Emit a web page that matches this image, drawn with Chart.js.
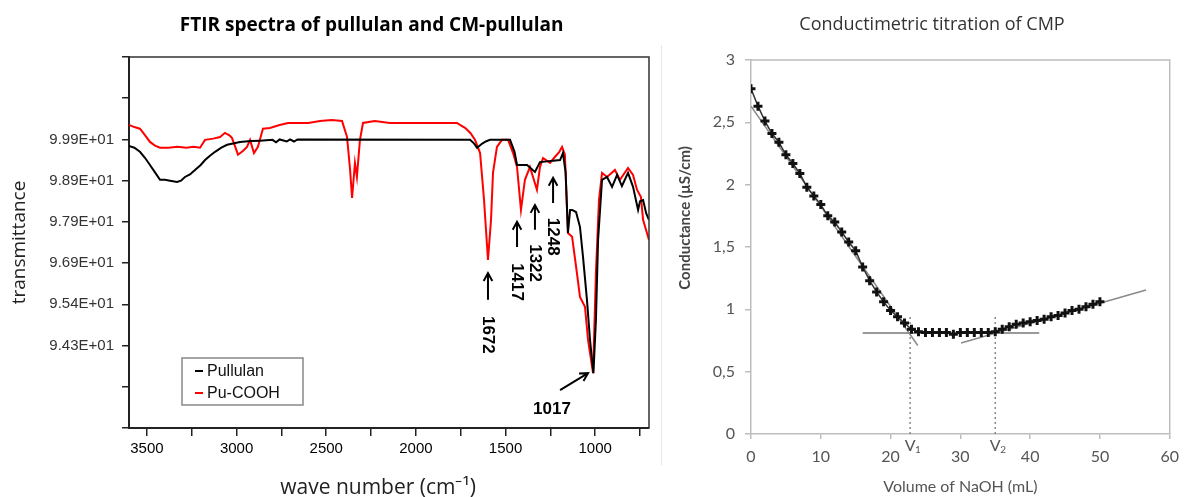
<!DOCTYPE html>
<html>
<head>
<meta charset="utf-8">
<script src="https://cdn.jsdelivr.net/npm/chart.js@4.4.0/dist/chart.umd.min.js"></script>
<style>
  html, body { margin: 0; padding: 0; background: #fff; }
  #wrap { position: relative; width: 1187px; height: 497px; overflow: hidden; }
  #ftir { position: absolute; left: 0; top: 0; }
  #cond { position: absolute; left: 660px; top: 0; }
  #sep { position: absolute; left: 661px; top: 45px; width: 1px; height: 420px; background: #e6e6e6; }
</style>
</head>
<body>
<div id="wrap">
  <canvas id="ftir" width="660" height="497"></canvas>
  <div id="sep"></div>
  <canvas id="cond" width="527" height="497"></canvas>
</div>
<script>
// ---- FTIR spectra (left) ----
// y values are positions on the transmittance axis, counted in tick steps from the bottom
let yTickLabels = ['', '', '9.43E+01', '9.54E+01', '9.69E+01', '9.79E+01', '9.89E+01', '9.99E+01', '', ''];

let pullulanWave = [3600, 3570, 3539, 3510, 3483, 3455, 3427, 3400, 3371, 3332, 3310, 3288, 3260, 3232, 3200, 3176, 3150, 3120, 3085, 3053, 3020, 2981, 2920, 2870, 2800, 2780, 2760, 2720, 2702, 2680, 2660, 1698, 1675, 1659, 1630, 1610, 1587, 1475, 1450, 1436, 1380, 1336, 1308, 1196, 1180, 1165, 1152, 1140, 1129, 1107, 1085, 1068, 1046, 1029, 1010, 996, 984, 962, 934, 906, 878, 851, 817, 789, 761, 750, 733, 715, 700];
let pullulanT = [6.84, 6.80, 6.70, 6.55, 6.38, 6.20, 6.02, 6.02, 6.00, 5.97, 6.00, 6.09, 6.15, 6.26, 6.38, 6.50, 6.60, 6.70, 6.80, 6.87, 6.90, 6.94, 6.96, 6.97, 6.99, 6.93, 7.00, 6.95, 7.00, 6.95, 7.00, 6.99, 6.90, 6.80, 6.90, 6.95, 6.99, 6.99, 6.70, 6.38, 6.38, 6.21, 6.45, 6.50, 6.67, 6.20, 4.73, 5.29, 5.29, 5.24, 4.88, 4.15, 3.11, 2.14, 1.33, 2.62, 4.56, 6.02, 6.09, 5.85, 6.14, 5.87, 6.19, 5.85, 5.29, 5.50, 5.53, 5.20, 5.05];

let puCoohWave = [3600, 3570, 3539, 3510, 3483, 3455, 3427, 3380, 3330, 3280, 3240, 3204, 3176, 3130, 3092, 3065, 3040, 3026, 3010, 2992, 2965, 2942, 2925, 2903, 2881, 2853, 2814, 2760, 2713, 2600, 2535, 2470, 2412, 2384, 2367, 2356, 2340, 2329, 2312, 2295, 2230, 2144, 1900, 1771, 1745, 1726, 1695, 1670, 1642, 1620, 1598, 1581, 1570, 1548, 1520, 1486, 1458, 1436, 1414, 1392, 1364, 1325, 1308, 1291, 1252, 1224, 1200, 1185, 1169, 1152, 1129, 1102, 1085, 1057, 1040, 1012, 996, 979, 962, 934, 890, 862, 817, 789, 767, 745, 733, 700];
let puCoohT = [7.35, 7.30, 7.26, 7.10, 6.94, 6.85, 6.80, 6.80, 6.82, 6.80, 6.82, 6.80, 6.99, 7.02, 7.06, 7.16, 7.10, 7.04, 6.85, 6.63, 6.72, 6.82, 6.99, 6.67, 6.82, 7.26, 7.28, 7.35, 7.40, 7.40, 7.45, 7.47, 7.45, 7.06, 6.26, 5.58, 6.43, 6.09, 6.99, 7.40, 7.45, 7.40, 7.40, 7.40, 7.33, 7.28, 7.15, 6.99, 6.67, 5.53, 4.08, 5.05, 6.19, 6.82, 6.99, 6.99, 6.67, 6.33, 5.29, 6.02, 6.33, 5.78, 6.33, 6.55, 6.43, 6.58, 6.70, 6.82, 6.63, 4.73, 4.64, 3.76, 3.18, 2.94, 2.14, 1.33, 3.76, 5.53, 6.19, 6.09, 6.26, 6.02, 6.31, 6.14, 5.78, 5.60, 5.05, 4.56];

// peak marks: arrow (wave number, head, tail) and label
let peakNotes = [
  { wave: 1598, head: 3.76, tail: 3.11, label: 2.26, text: '1672' },
  { wave: 1436, head: 5.00, tail: 4.39, label: 3.54, text: '1417' },
  { wave: 1336, head: 5.41, tail: 4.81, label: 4.00, text: '1322' },
  { wave: 1235, head: 6.07, tail: 5.46, label: 4.64, text: '1248' }
];

function toPoints(xs, ys) {
  return xs.map((x, i) => ({ x: x, y: ys[i] }));
}

function arrow(ctx, x1, y1, x2, y2) {
  const ang = Math.atan2(y2 - y1, x2 - x1);
  ctx.beginPath();
  ctx.moveTo(x1, y1);
  ctx.lineTo(x2, y2);
  ctx.moveTo(x2 - 9 * Math.cos(ang - 0.5), y2 - 9 * Math.sin(ang - 0.5));
  ctx.lineTo(x2, y2);
  ctx.lineTo(x2 - 9 * Math.cos(ang + 0.5), y2 - 9 * Math.sin(ang + 0.5));
  ctx.stroke();
}

const ftirExtras = {
  id: 'ftirExtras',
  afterDatasetsDraw(chart) {
    const { ctx, chartArea: a, scales: { x, y } } = chart;
    ctx.save();
    // top and right frame
    ctx.strokeStyle = '#333';
    ctx.lineWidth = 1.5;
    ctx.beginPath();
    ctx.moveTo(a.left, a.top);
    ctx.lineTo(a.right, a.top);
    ctx.lineTo(a.right, a.bottom);
    ctx.stroke();

    // peak arrows and labels
    ctx.strokeStyle = '#000';
    ctx.fillStyle = '#000';
    ctx.lineWidth = 2;
    ctx.font = 'bold 17px "Liberation Sans"';
    ctx.textAlign = 'center';
    ctx.textBaseline = 'middle';
    peakNotes.forEach(p => {
      const px = x.getPixelForValue(p.wave);
      arrow(ctx, px, y.getPixelForValue(p.tail), px, y.getPixelForValue(p.head));
      ctx.save();
      ctx.translate(px, y.getPixelForValue(p.label));
      ctx.rotate(Math.PI / 2);
      ctx.fillText(p.text, 0, 0);
      ctx.restore();
    });
    arrow(ctx, x.getPixelForValue(1196), y.getPixelForValue(0.92), x.getPixelForValue(1040), y.getPixelForValue(1.33));
    ctx.fillText('1017', x.getPixelForValue(1241), y.getPixelForValue(0.46));

    // legend box
    const lx = a.left + 53, ly = a.bottom - 70;
    ctx.fillStyle = '#fff';
    ctx.fillRect(lx, ly, 121, 47);
    ctx.strokeStyle = '#888';
    ctx.lineWidth = 1.5;
    ctx.strokeRect(lx, ly, 121, 47);
    ctx.font = '16px "Liberation Sans"';
    ctx.textAlign = 'left';
    chart.data.datasets.forEach((ds, i) => {
      const cy = ly + 13 + i * 22;
      ctx.strokeStyle = ds.borderColor;
      ctx.lineWidth = 2;
      ctx.beginPath();
      ctx.moveTo(lx + 13, cy);
      ctx.lineTo(lx + 21, cy);
      ctx.stroke();
      ctx.fillStyle = '#111';
      ctx.fillText(ds.label, lx + 25, cy + 1);
    });
    ctx.restore();
  }
};

new Chart(document.getElementById('ftir'), {
  type: 'line',
  data: {
    datasets: [
      { label: 'Pullulan', data: toPoints(pullulanWave, pullulanT), borderColor: '#000', borderWidth: 2, pointRadius: 0, tension: 0 },
      { label: 'Pu-COOH', data: toPoints(puCoohWave, puCoohT), borderColor: '#ff0000', borderWidth: 2, pointRadius: 0, tension: 0 }
    ]
  },
  options: {
    responsive: false,
    animation: false,
    events: [],
    layout: { padding: { left: 0, right: 11, top: 0, bottom: 0 } },
    plugins: {
      legend: { display: false },
      tooltip: { enabled: false },
      title: {
        display: true,
        fullSize: false,
        // trailing spaces nudge the centred title a little to the left, as in the original
        text: 'FTIR spectra of pullulan and CM-pullulan' + ' '.repeat(7),
        color: '#000',
        font: { family: 'Open Sans', size: 19, weight: 'bold', lineHeight: 1.2 },
        padding: { top: 14.6, bottom: 19.6 }
      }
    },
    scales: {
      x: {
        type: 'linear',
        reverse: true,
        min: 700,
        max: 3600,
        afterFit: s => { s.height = 69; },
        ticks: {
          stepSize: 250, includeBounds: false, autoSkip: false, maxRotation: 0,
          color: '#000', padding: 4,
          font: { family: 'Liberation Sans', size: 15 },
          callback: v => (v % 500 === 0 ? String(v) : '')
        },
        grid: { drawOnChartArea: false, tickLength: 8, color: '#222', lineWidth: 1.5 },
        border: { display: true, color: '#222', width: 2 },
        title: {
          display: true, text: 'wave number (cm⁻¹)' + ' '.repeat(4), color: '#222',
          font: { family: 'Open Sans', size: 21, lineHeight: 1 },
          padding: { top: 0, bottom: -2 }
        }
      },
      y: {
        type: 'linear',
        min: 0,
        max: 9,
        afterFit: s => { s.width = 129; },
        ticks: {
          stepSize: 1, autoSkip: false, color: '#333', padding: 8,
          font: { family: 'Liberation Sans', size: 15 },
          callback: v => yTickLabels[v]
        },
        grid: { drawOnChartArea: false, tickLength: 7, color: '#222', lineWidth: 1.5 },
        border: { display: true, color: '#222', width: 2 },
        title: {
          display: true, text: 'transmittance', color: '#222',
          font: { family: 'Open Sans', size: 19, lineHeight: 1.2 },
          padding: { top: 8.6, bottom: 0 }
        }
      }
    }
  },
  plugins: [ftirExtras]
});

// ---- Conductimetric titration (right) ----
let naohVolume = [0, 1, 2, 3, 4, 5, 6, 7, 8, 9, 10, 11, 12, 13, 14, 15, 16, 17, 18, 19, 20, 21, 22, 23, 24, 25, 26, 27, 28, 29, 30, 31, 32, 33, 34, 35, 36, 37, 38, 39, 40, 41, 42, 43, 44, 45, 46, 47, 48, 49, 50];
let conductance = [2.77, 2.63, 2.51, 2.41, 2.34, 2.24, 2.17, 2.09, 1.98, 1.91, 1.84, 1.75, 1.70, 1.62, 1.54, 1.47, 1.34, 1.23, 1.14, 1.06, 0.99, 0.94, 0.89, 0.84, 0.82, 0.815, 0.815, 0.815, 0.815, 0.80, 0.815, 0.815, 0.815, 0.815, 0.815, 0.82, 0.84, 0.86, 0.88, 0.89, 0.90, 0.91, 0.92, 0.94, 0.95, 0.97, 0.99, 1.00, 1.02, 1.04, 1.06];

// fitted lines (end points) and equivalence volumes
let fitAcidX = [0, 23.9];
let fitAcidY = [2.63, 0.71];
let fitFlatX = [16, 41.3];
let fitFlatY = [0.81, 0.81];
let fitBaseX = [30.1, 56.6];
let fitBaseY = [0.73, 1.155];
let equivVolumes = [22.8, 35];
let equivNames = ['1', '2'];
let equivTop = 0.96;

const condExtras = {
  id: 'condExtras',
  afterDatasetsDraw(chart) {
    const { ctx, chartArea: a, scales: { x } } = chart;
    ctx.save();
    ctx.strokeStyle = '#bdbdbd';
    ctx.lineWidth = 1.5;
    ctx.beginPath();
    ctx.moveTo(a.left, a.top);
    ctx.lineTo(a.right, a.top);
    ctx.lineTo(a.right, a.bottom);
    ctx.stroke();

    ctx.fillStyle = '#555';
    ctx.textBaseline = 'middle';
    equivVolumes.forEach((v, i) => {
      const px = x.getPixelForValue(v);
      ctx.font = '16px Lato';
      ctx.textAlign = 'center';
      ctx.fillText('V', px, a.bottom + 12);
      ctx.font = '10px Lato';
      ctx.textAlign = 'left';
      ctx.fillText(equivNames[i], px + 5, a.bottom + 16);
    });
    ctx.restore();
  }
};

const guide = (xs, ys, color, dash) => ({
  data: toPoints(xs, ys), borderColor: color, borderWidth: 1.5, borderDash: dash || [],
  pointRadius: 0, tension: 0
});

new Chart(document.getElementById('cond'), {
  type: 'line',
  data: {
    datasets: [
      {
        data: toPoints(naohVolume, conductance),
        borderColor: '#333', borderWidth: 1.5, tension: 0,
        pointStyle: 'cross', pointRadius: 4.5, pointBorderWidth: 3,
        pointBorderColor: '#111'
      },
      guide(fitAcidX, fitAcidY, '#8a8a8a'),
      guide(fitFlatX, fitFlatY, '#777'),
      guide(fitBaseX, fitBaseY, '#8a8a8a'),
      guide([equivVolumes[0], equivVolumes[0]], [0, equivTop], '#888', [2, 3]),
      guide([equivVolumes[1], equivVolumes[1]], [0, equivTop], '#888', [2, 3])
    ]
  },
  options: {
    responsive: false,
    animation: false,
    events: [],
    layout: { padding: { left: 28, right: 11, top: 0, bottom: 0 } },
    plugins: {
      legend: { display: false },
      tooltip: { enabled: false },
      title: {
        display: true,
        text: 'Conductimetric titration of CMP',
        color: '#333',
        font: { family: 'Open Sans', size: 18, weight: 'normal', lineHeight: 1.2 },
        padding: { top: 14.2, bottom: 24.2 }
      }
    },
    scales: {
      x: {
        type: 'linear',
        min: 0,
        max: 60,
        afterFit: s => { s.height = 63; },
        ticks: { stepSize: 10, color: '#555', padding: 8, maxRotation: 0, font: { family: 'Lato', size: 16 } },
        grid: { drawOnChartArea: false, tickLength: 5, color: '#bdbdbd', lineWidth: 1.5 },
        border: { display: true, color: '#bdbdbd', width: 1.5 },
        title: {
          display: true, text: 'Volume of NaOH (mL)', color: '#555',
          font: { family: 'Lato', size: 16, lineHeight: 1.2 },
          padding: { top: 0, bottom: 1 }
        }
      },
      y: {
        type: 'linear',
        min: 0,
        max: 3,
        afterFit: s => { s.width = 63; },
        ticks: {
          stepSize: 0.5, color: '#555', padding: 10, font: { family: 'Lato', size: 16 },
          callback: v => String(v).replace('.', ',')
        },
        grid: { drawOnChartArea: false, tickLength: 6, color: '#bdbdbd', lineWidth: 1.5 },
        border: { display: true, color: '#bdbdbd', width: 1.5 },
        title: {
          // leading spaces lift the rotated title above the axis centre, as in the original
          display: true, text: ' '.repeat(16) + 'Conductance (µS/cm)', color: '#444',
          font: { family: 'Lato', size: 15, weight: 'bold', lineHeight: 1.2 },
          padding: { top: -12 }
        }
      }
    }
  },
  plugins: [condExtras]
});
</script>
</body>
</html>
